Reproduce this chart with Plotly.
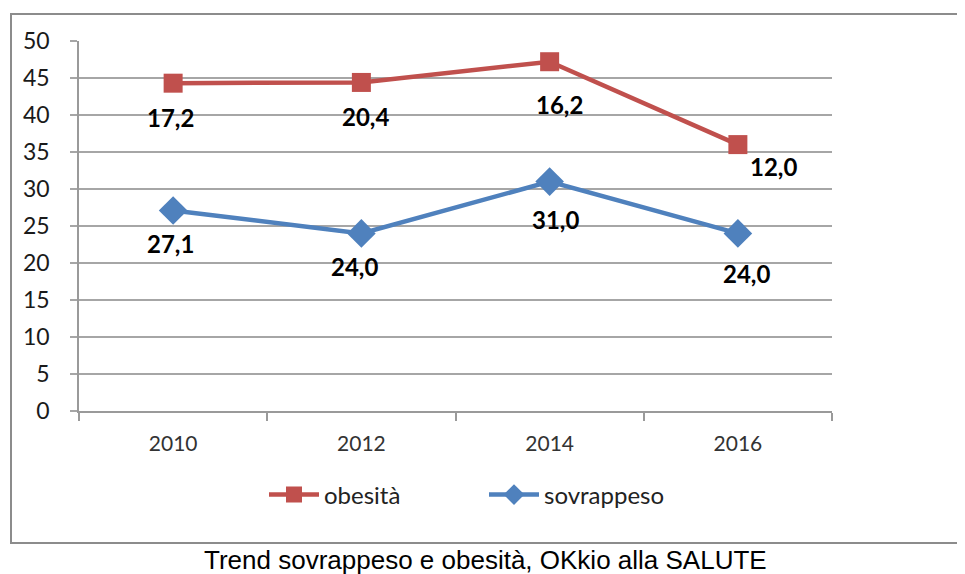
import plotly.graph_objects as go

years = ["2010", "2012", "2014", "2016"]
sovrappeso = [27.1, 24.0, 31.0, 24.0]
obesita = [17.2, 20.4, 16.2, 12.0]
y_ticks = [0, 5, 10, 15, 20, 25, 30, 35, 40, 45, 50]
caption = "Trend sovrappeso e obesità, OKkio alla SALUTE"

# label nudges in pixels (style only)
sov_label_shift = [(-3, 33), (-7, 33), (6, 38), (9, 40)]
obe_label_shift = [(-3, 34), (4, 34), (10, 43), (36, 22)]

RED = "#C0504D"
BLUE = "#4F81BD"
FONT = "Lato"

OFF = 8  # page body margin
W, H = 965 - OFF, 574 - OFF
L, R, T, B = 79 - OFF, 832 - OFF, 41 - OFF, 411 - OFF
pw, ph = R - L, B - T


def px(x):
    return (x - OFF - L) / pw


def py(y):
    return (B - (y - OFF)) / ph


fig = go.Figure()
fig.add_trace(go.Scatter(
    x=years, y=sovrappeso, name="sovrappeso", stackgroup="one", fill="none",
    mode="lines+markers",
    line=dict(color=BLUE, width=4.5),
    marker=dict(symbol="diamond", size=22, color=BLUE),
))
fig.add_trace(go.Scatter(
    x=years, y=obesita, name="obesità", stackgroup="one", fill="none",
    mode="lines+markers",
    line=dict(color=RED, width=4.5),
    marker=dict(symbol="square", size=19, color=RED),
))

label_font = dict(family=FONT, size=24, color="#000000", weight="bold")
annotations = []
for i, yr in enumerate(years):
    dx, dy = sov_label_shift[i]
    annotations.append(dict(x=i, y=sovrappeso[i], xref="x", yref="y",
                            text=f"{sovrappeso[i]:.1f}".replace(".", ","),
                            showarrow=False, xshift=dx, yshift=-dy,
                            xanchor="center", yanchor="middle", font=label_font))
    dx, dy = obe_label_shift[i]
    annotations.append(dict(x=i, y=sovrappeso[i] + obesita[i], xref="x", yref="y",
                            text=f"{obesita[i]:.1f}".replace(".", ","),
                            showarrow=False, xshift=dx, yshift=-dy,
                            xanchor="center", yanchor="middle", font=label_font))
annotations.append(dict(text=caption, xref="paper", yref="paper",
                        x=px(485), y=py(560), xanchor="center", yanchor="middle",
                        showarrow=False,
                        font=dict(family="Liberation Sans", size=26, color="#000000")))

fig.update_layout(
    width=W, height=H,
    margin=dict(l=L, r=W - R, t=T, b=H - B),
    paper_bgcolor="white", plot_bgcolor="white",
    separators=",.",
    font=dict(family=FONT, size=21, color="#222222"),
    showlegend=True,
    legend=dict(orientation="h", traceorder="reversed",
                x=px(264), xanchor="left", y=py(495), yanchor="middle",
                font=dict(family=FONT, size=24, color="#222222"),
                entrywidth=155, entrywidthmode="pixels",
                itemwidth=50, bgcolor="rgba(0,0,0,0)"),
    xaxis=dict(type="category", range=[-0.5, 3.5], showgrid=False,
               showline=True, linecolor="#9a9a9a", linewidth=1.5,
               ticks="outside", ticklen=8, tickcolor="#9a9a9a", tickwidth=1.5,
               tickson="boundaries", ticklabelstandoff=13,
               tickfont=dict(family=FONT, size=21, color="#333333")),
    yaxis=dict(range=[0, 50], tickvals=y_ticks, showgrid=True,
               gridcolor="#a6a6a6", gridwidth=1.5,
               showline=True, linecolor="#9a9a9a", linewidth=1.5,
               ticks="outside", ticklen=7, tickcolor="#a6a6a6", tickwidth=1.5,
               ticklabelstandoff=16, zeroline=False,
               tickfont=dict(family=FONT, size=23, color="#1a1a1a")),
    shapes=[dict(type="rect", xref="paper", yref="paper",
                 x0=px(11), x1=px(975), y0=py(543), y1=py(14),
                 line=dict(color="#8c8c8c", width=2), layer="below")],
    annotations=annotations,
)

fig.write_html("out.html")
